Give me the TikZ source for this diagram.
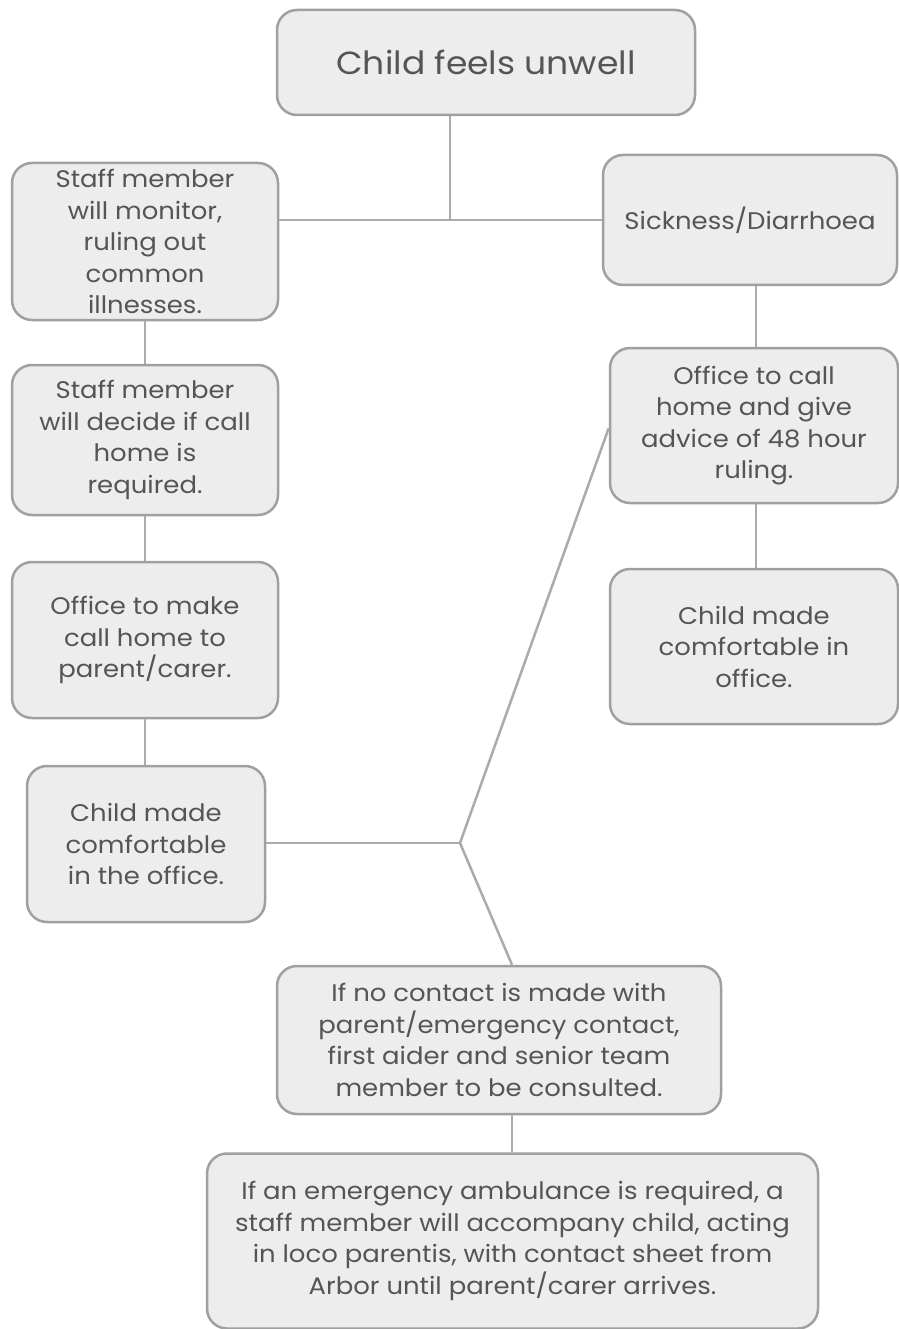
\documentclass[tikz,border=0pt]{standalone}
\usepackage{fontspec}
\setmainfont{Poppins}[FakeStretch=1.08]
\definecolor{boxfill}{HTML}{EDEDED}
\definecolor{boxline}{HTML}{A0A0A0}
\definecolor{conn}{HTML}{ABABAB}
\definecolor{txt}{HTML}{555555}
\begin{document}
\begin{tikzpicture}[x=1pt,y=-1pt,
  box/.style={draw=boxline, fill=boxfill, line width=2.5pt, rounded corners=20pt,
    align=center, inner sep=0pt, text=txt, font=\fontsize{24}{31.5}\selectfont},
  link/.style={draw=conn, line width=2.5pt}]
\useasboundingbox (0,0) rectangle (898,1329);
% boxes: minimum width/height from pixel extents
\node[box, minimum width=418, minimum height=105, font=\fontsize{32}{36}\selectfont] (top) at (486,62.5) {Child feels unwell};
\node[box, minimum width=266, minimum height=157] (l1) at (145,241.5) {Staff member\\will monitor,\\ruling out\\common\\illnesses.};
\node[box, minimum width=266, minimum height=150] (l2) at (145,440) {Staff member\\will decide if call\\home is\\required.};
\node[box, minimum width=266, minimum height=156] (l3) at (145,640) {Office to make\\call home to\\parent/carer.};
\node[box, minimum width=238, minimum height=156] (l4) at (146,844) {Child made\\comfortable\\in the office.};
\node[box, minimum width=294, minimum height=130] (r1) at (750,220) {Sickness/Diarrhoea};
\node[box, minimum width=288, minimum height=155] (r2) at (754,425.5) {Office to call\\home and give\\advice of 48 hour\\ruling.};
\node[box, minimum width=288, minimum height=155] (r3) at (754,646.5) {Child made\\comfortable in\\office.};
\node[box, minimum width=444, minimum height=148] (b1) at (499,1040) {If no contact is made with\\parent/emergency contact,\\first aider and senior team\\member to be consulted.};
\node[box, minimum width=611, minimum height=175] (b2) at (512.5,1241) {If an emergency ambulance is required, a\\staff member will accompany child, acting\\in loco parentis, with contact sheet from\\Arbor until parent/carer arrives.};
% junctions
\coordinate (j1) at (450,220);
\coordinate (j2) at (460,843);
% connectors
\draw[link] (l1.east |- j1) -- (r1.west |- j1);
\draw[link] (top.south -| j1) -- (j1);
\draw[link] (l1.south) -- (l2.north);
\draw[link] (l2.south) -- (l3.north);
\draw[link] (l3.south) -- (l4.north -| l3.south);
\draw[link] (r1.south -| 756,0) -- (r2.north -| 756,0);
\draw[link] (r2.south -| 756,0) -- (r3.north -| 756,0);
\draw[link] (l4.east |- j2) -- (j2);
\draw[link] (j2) -- (r2.west |- 0,428);
\draw[link] (j2) -- (b1.north -| 512,0);
\draw[link] (b1.south -| 512,0) -- (b2.north -| 512,0);
\end{tikzpicture}
\end{document}
